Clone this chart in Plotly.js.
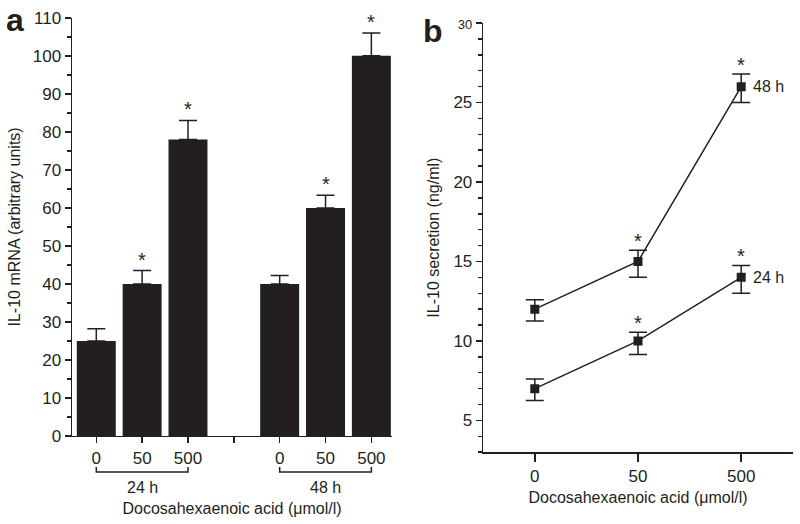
<!DOCTYPE html>
<html>
<head>
<meta charset="utf-8">
<script src="https://cdn.plot.ly/plotly-3.0.1.min.js"></script>
<style>
  html, body { margin: 0; padding: 0; background: #fff; }
  #plot { width: 800px; height: 524px; }
</style>
</head>
<body>
<div id="plot"></div>
<script>
// doses of docosahexaenoic acid (umol/l)
const doses = ["0", "50", "500"];

// panel a: IL-10 mRNA (arbitrary units)
const mrna24 = [25, 40, 78];
const mrna24Err = [3.2, 3.5, 5];
const mrna48 = [40, 60, 100];
const mrna48Err = [2.2, 3.3, 6];
const mrnaSig24 = [false, true, true];
const mrnaSig48 = [false, true, true];

// panel b: IL-10 secretion (ng/ml)
const sec24 = [7, 10, 14];
const sec24Up = [0.6, 0.55, 0.75];
const sec24Down = [0.75, 0.85, 1.0];
const sec48 = [12, 15, 26];
const sec48Up = [0.6, 0.7, 0.8];
const sec48Down = [0.75, 1.0, 1.0];
const secSig24 = [false, true, true];
const secSig48 = [false, true, true];

const ink = "#231f20";
const fontFam = "Liberation Sans, Arial, Helvetica, sans-serif";
const tickSize = 17;
const titleSize = 16;

// bar positions: 24 h group, empty slot, 48 h group
const pos24 = doses.map((d, i) => i);
const pos48 = doses.map((d, i) => i + doses.length + 1);
const barTicks = [...pos24, doses.length, ...pos48];
const barTickText = [...doses, "", ...doses];

const barTrace = {
  type: "bar",
  x: [...pos24, ...pos48],
  y: [...mrna24, ...mrna48],
  width: 0.85,
  marker: {color: ink, line: {width: 0}},
  error_y: {
    type: "data",
    symmetric: false,
    array: [...mrna24Err, ...mrna48Err],
    arrayminus: [0, 0, 0, 0, 0, 0],
    color: ink,
    thickness: 1.5,
    width: 9
  },
  xaxis: "x",
  yaxis: "y",
  showlegend: false,
  hoverinfo: "skip"
};

const pts = doses.map((d, i) => i);

function lineTrace(vals, up, down) {
  return {
    type: "scatter",
    mode: "lines+markers",
    x: pts,
    y: vals,
    line: {color: ink, width: 1.5},
    marker: {symbol: "square", size: 9, color: ink},
    error_y: {
      type: "data",
      symmetric: false,
      array: up,
      arrayminus: down,
      color: ink,
      thickness: 1.5,
      width: 9
    },
    xaxis: "x2",
    yaxis: "y2",
    showlegend: false,
    hoverinfo: "skip"
  };
}

const annotations = [];

// asterisks over significant bars / points
function addStars(xs, tops, sig, xref, yref, shift) {
  xs.forEach((x, i) => {
    if (!sig[i]) return;
    annotations.push({
      x: x, y: tops[i], xref: xref, yref: yref,
      text: "*", showarrow: false, yanchor: "middle", yshift: shift,
      font: {family: fontFam, size: 20, color: ink}
    });
  });
}
addStars(pos24, mrna24.map((v, i) => v + mrna24Err[i]), mrnaSig24, "x", "y", 11);
addStars(pos48, mrna48.map((v, i) => v + mrna48Err[i]), mrnaSig48, "x", "y", 11);
addStars(pts, sec24.map((v, i) => v + sec24Up[i]), secSig24, "x2", "y2", 9);
addStars(pts, sec48.map((v, i) => v + sec48Up[i]), secSig48, "x2", "y2", 9);

// series labels in panel b
annotations.push({
  x: pts[2], y: sec48[2], xref: "x2", yref: "y2", text: "48 h",
  showarrow: false, xanchor: "left", yanchor: "middle", xshift: 10,
  font: {family: fontFam, size: titleSize, color: ink}
});
annotations.push({
  x: pts[2], y: sec24[2], xref: "x2", yref: "y2", text: "24 h",
  showarrow: false, xanchor: "left", yanchor: "middle", xshift: 10,
  font: {family: fontFam, size: titleSize, color: ink}
});

// group labels under brackets in panel a
annotations.push({
  x: pos24[1], y: 0.069, xref: "x", yref: "paper", text: "24 h",
  showarrow: false, yanchor: "middle", font: {family: fontFam, size: titleSize, color: ink}
});
annotations.push({
  x: pos48[1], y: 0.069, xref: "x", yref: "paper", text: "48 h",
  showarrow: false, yanchor: "middle", font: {family: fontFam, size: titleSize, color: ink}
});

// panel letters
annotations.push({
  x: 0.019, y: 0.962, xref: "paper", yref: "paper", text: "<b>a</b>",
  showarrow: false, xanchor: "center", yanchor: "middle",
  font: {family: fontFam, size: 32, color: ink}
});
annotations.push({
  x: 0.541, y: 0.94, xref: "paper", yref: "paper", text: "<b>b</b>",
  showarrow: false, xanchor: "center", yanchor: "middle",
  font: {family: fontFam, size: 32, color: ink}
});

// brackets under each dose group
function bracket(x0, x1) {
  return {
    type: "path", xref: "x", yref: "paper",
    path: `M ${x0},0.109 L ${x0},0.099 L ${x1},0.099 L ${x1},0.109`,
    line: {color: ink, width: 1.5}
  };
}
const shapes = [
  bracket(pos24[0], pos24[2]),
  bracket(pos48[0], pos48[2])
];

const axisBase = {
  showline: true, linecolor: ink, linewidth: 1.5,
  showgrid: false, zeroline: false,
  ticks: "outside", ticklen: 6, tickwidth: 1.5, tickcolor: ink,
  tickfont: {family: fontFam, size: tickSize, color: ink},
  fixedrange: true
};

const layout = {
  width: 800, height: 524,
  margin: {l: 0, r: 0, t: 0, b: 0},
  paper_bgcolor: "#fff", plot_bgcolor: "#fff",
  font: {family: fontFam, color: ink},
  xaxis: Object.assign({}, axisBase, {
    domain: [0.09, 0.49],
    range: [-0.53, 6.45],
    tickmode: "array", tickvals: barTicks, ticktext: barTickText,
    anchor: "y",
    title: {text: "Docosahexaenoic acid (μmol/l)", standoff: 36,
            font: {family: fontFam, size: titleSize, color: ink}}
  }),
  yaxis: Object.assign({}, axisBase, {
    domain: [0.168, 0.966],
    range: [0, 110],
    dtick: 10,
    minor: {dtick: 5, ticks: "outside", ticklen: 4, tickwidth: 1.5, tickcolor: ink},
    anchor: "x",
    title: {text: "IL-10 mRNA (arbitrary units)", standoff: 8,
            font: {family: fontFam, size: titleSize, color: ink}}
  }),
  xaxis2: Object.assign({}, axisBase, {
    domain: [0.604, 0.991],
    range: [-0.5, 2.5],
    ticklen: 8,
    tickmode: "array", tickvals: pts, ticktext: doses,
    anchor: "y2",
    title: {text: "Docosahexaenoic acid (μmol/l)", standoff: 6,
            font: {family: fontFam, size: titleSize, color: ink}}
  }),
  yaxis2: Object.assign({}, axisBase, {
    domain: [0.137, 0.956],
    range: [3, 30],
    tickmode: "array", tickvals: [5, 10, 15, 20, 25, 30],
    ticktext: ["5", "10", "15", "20", "25", "<span style='font-size:13px'>30</span>"],
    minor: {dtick: 1, ticks: "outside", ticklen: 4, tickwidth: 1.5, tickcolor: ink},
    anchor: "x2",
    title: {text: "IL-10 secretion (ng/ml)", standoff: 10,
            font: {family: fontFam, size: titleSize, color: ink}}
  }),
  annotations: annotations,
  shapes: shapes
};

Plotly.newPlot("plot", [barTrace, lineTrace(sec48, sec48Up, sec48Down), lineTrace(sec24, sec24Up, sec24Down)], layout, {displayModeBar: false, staticPlot: true});
</script>
</body>
</html>
